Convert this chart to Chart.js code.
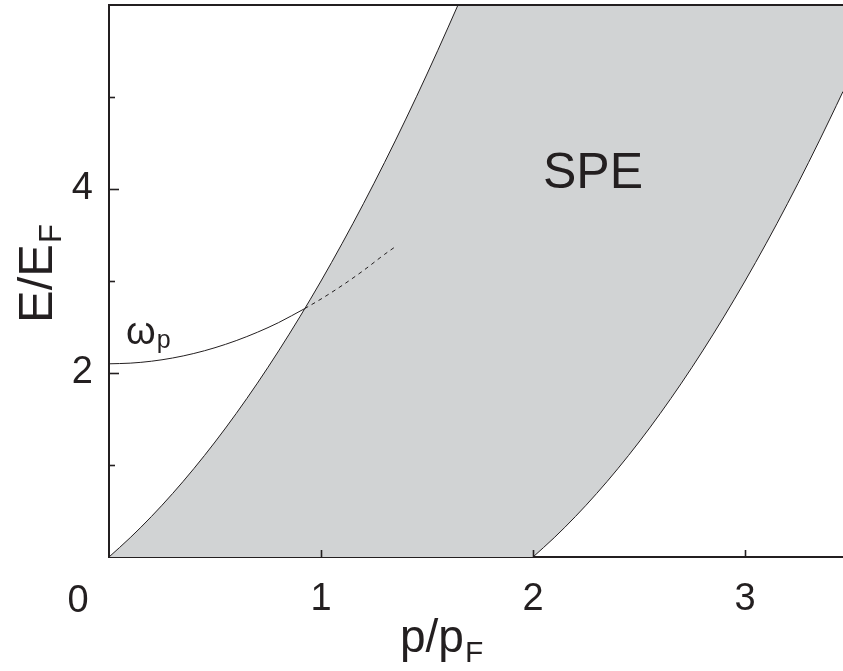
<!DOCTYPE html>
<html lang="en">
<head>
    <meta charset="UTF-8">
    <title>Particle-hole continuum and plasmon</title>
    <script src="https://cdn.jsdelivr.net/npm/chart.js@4.4.1/dist/chart.umd.min.js"></script>
    <style>
        html, body {
            margin: 0;
            padding: 0;
            background: #ffffff;
        }
        #wrap {
            width: 843px;
            height: 671px;
            position: relative;
        }
    </style>
</head>
<body>
    <div id="wrap">
        <canvas id="speChart"></canvas>
    </div>

    <script>
// Axis ranges and ticks
const xMin = 0, xMax = 3.462;
const yMin = 0, yMax = 6;
const xTicks = [0, 1, 2, 3];
const xTickLabels = ['0', '1', '2', '3'];
const yTicks = [1, 2, 3, 4, 5];
const yTickLabels = ['', '2', '', '4', ''];

// Upper edge of the SPE continuum (p/pF, E/EF)
const upperP = [0, 0.1, 0.2, 0.3, 0.4, 0.5, 0.6, 0.7, 0.8, 0.9, 1.0, 1.1, 1.2, 1.3, 1.4, 1.5, 1.6, 1.646];
const upperE = [0, 0.21, 0.44, 0.69, 0.96, 1.25, 1.56, 1.89, 2.24, 2.61, 3.0, 3.41, 3.84, 4.29, 4.76, 5.25, 5.76, 6.0];

// Lower edge of the SPE continuum
const lowerP = [2.0, 2.1, 2.2, 2.3, 2.4, 2.5, 2.6, 2.7, 2.8, 2.9, 3.0, 3.1, 3.2, 3.3, 3.4, 3.462];
const lowerE = [0, 0.21, 0.44, 0.69, 0.96, 1.25, 1.56, 1.89, 2.24, 2.61, 3.0, 3.41, 3.84, 4.29, 4.76, 5.06];

// Plasmon branch: solid outside the continuum, dashed inside
const plasmonP = [0, 0.1, 0.2, 0.3, 0.4, 0.5, 0.6, 0.7, 0.8, 0.923];
const plasmonE = [2.10, 2.107, 2.128, 2.163, 2.212, 2.275, 2.352, 2.443, 2.548, 2.70];
const dampedP = [0.923, 1.0, 1.1, 1.2, 1.3, 1.349];
const dampedE = [2.70, 2.804, 2.952, 3.114, 3.29, 3.37];

const INK = '#231f20';
const SHADE = '#d1d3d4';
const FONT = '"Liberation Sans", Arial, Helvetica, sans-serif';

const toPts = (xs, ys) => xs.map((x, i) => ({ x: x, y: ys[i] }));

// closed outline of the shaded region
const regionPts = toPts(upperP, upperE)
    .concat([{ x: xMax, y: yMax }])
    .concat(toPts(lowerP, lowerE).reverse())
    .concat([{ x: 0, y: 0 }]);

function drawWithSub(ctx, main, sub, x, y, size, subSize, shift, align) {
    ctx.font = size + 'px ' + FONT;
    const w1 = ctx.measureText(main).width;
    ctx.font = subSize + 'px ' + FONT;
    const w2 = ctx.measureText(sub).width;
    let x0 = x;
    if (align === 'center') x0 = x - (w1 + w2) / 2;
    ctx.textAlign = 'left';
    ctx.textBaseline = 'alphabetic';
    ctx.font = size + 'px ' + FONT;
    ctx.fillText(main, x0, y);
    ctx.font = subSize + 'px ' + FONT;
    ctx.fillText(sub, x0 + w1 + 1, y + shift);
}

// frame, inward ticks and all the free text
const decorations = {
    id: 'decorations',
    afterDatasetsDraw(chart) {
        const ctx = chart.ctx;
        const area = chart.chartArea;
        const xs = chart.scales.x, ys = chart.scales.y;
        ctx.save();
        ctx.strokeStyle = INK;
        ctx.fillStyle = INK;

        // top border
        ctx.lineWidth = 2;
        ctx.beginPath();
        ctx.moveTo(area.left - 1, area.top);
        ctx.lineTo(area.right, area.top);
        ctx.stroke();

        // ticks pointing into the plot
        ctx.lineWidth = 1.6;
        yTicks.forEach((v, i) => {
            const py = Math.round(ys.getPixelForValue(v)) + 0.5;
            const len = yTickLabels[i] ? 10 : 6;
            ctx.beginPath();
            ctx.moveTo(area.left, py);
            ctx.lineTo(area.left + len, py);
            ctx.stroke();
        });
        xTicks.forEach(v => {
            if (v === 0) return;
            const px = Math.round(xs.getPixelForValue(v)) + 0.5;
            ctx.beginPath();
            ctx.moveTo(px, area.bottom);
            ctx.lineTo(px, area.bottom - 7);
            ctx.stroke();
        });

        // origin label sits left of the corner
        ctx.font = '38px ' + FONT;
        ctx.textAlign = 'center';
        ctx.textBaseline = 'alphabetic';
        ctx.fillText(xTickLabels[0], xs.getPixelForValue(0) - 31, 612);

        // axis titles
        drawWithSub(ctx, 'p/p', 'F', 400, 652, 46, 30, 10, 'left');
        ctx.save();
        ctx.translate(52, 274);
        ctx.rotate(-Math.PI / 2);
        drawWithSub(ctx, 'E/E', 'F', 0, 0, 49, 31, 9, 'center');
        ctx.restore();

        // region and curve labels
        ctx.font = '50px ' + FONT;
        ctx.textAlign = 'center';
        ctx.fillText('SPE', 593, 188);
        drawWithSub(ctx, '\u03c9', 'p', 126, 344, 38, 25, 4, 'left');

        ctx.restore();
    }
};

const chart = new Chart(document.getElementById('speChart'), {
    type: 'line',
    data: {
        datasets: [
            {
                data: toPts(plasmonP, plasmonE),
                borderColor: INK,
                borderWidth: 1,
                pointRadius: 0,
                cubicInterpolationMode: 'monotone',
                fill: false,
                order: 1
            },
            {
                data: toPts(dampedP, dampedE),
                borderColor: INK,
                borderWidth: 1,
                borderDash: [4, 4],
                pointRadius: 0,
                cubicInterpolationMode: 'monotone',
                fill: false,
                order: 1
            },
            {
                data: toPts(upperP, upperE),
                borderColor: INK,
                borderWidth: 1,
                pointRadius: 0,
                cubicInterpolationMode: 'monotone',
                fill: false,
                order: 2
            },
            {
                data: toPts(lowerP, lowerE),
                borderColor: INK,
                borderWidth: 1,
                pointRadius: 0,
                cubicInterpolationMode: 'monotone',
                fill: false,
                order: 2
            },
            {
                // shaded single-particle excitation region
                data: regionPts,
                borderWidth: 0,
                borderColor: 'rgba(0,0,0,0)',
                backgroundColor: SHADE,
                pointRadius: 0,
                tension: 0,
                fill: 'shape',
                order: 10
            }
        ]
    },
    options: {
        responsive: true,
        maintainAspectRatio: false,
        animation: false,
        layout: { padding: { top: 5, right: 0, bottom: 0, left: 0 } },
        plugins: {
            legend: { display: false },
            tooltip: { enabled: false }
        },
        scales: {
            x: {
                type: 'linear',
                min: xMin,
                max: xMax,
                afterBuildTicks: scale => { scale.ticks = xTicks.map(v => ({ value: v })); },
                afterFit: scale => {
                    scale.height = 114;
                    scale.paddingLeft = 0;
                    scale.paddingRight = 0;
                },
                grid: { display: false, drawTicks: false },
                border: { display: true, color: INK, width: 2 },
                ticks: {
                    padding: 20,
                    color: INK,
                    font: { family: FONT, size: 38 },
                    maxRotation: 0,
                    callback: (v, i) => (i === 0 ? '' : xTickLabels[i])
                }
            },
            y: {
                type: 'linear',
                min: yMin,
                max: yMax,
                afterBuildTicks: scale => { scale.ticks = yTicks.map(v => ({ value: v })); },
                afterFit: scale => {
                    scale.width = 109;
                    scale.paddingTop = 0;
                    scale.paddingBottom = 0;
                },
                grid: { display: false, drawTicks: false },
                border: { display: true, color: INK, width: 2 },
                ticks: {
                    padding: 16,
                    color: INK,
                    font: { family: FONT, size: 38 },
                    callback: (v, i) => yTickLabels[i]
                }
            }
        }
    },
    plugins: [decorations]
});
    </script>
</body>
</html>
